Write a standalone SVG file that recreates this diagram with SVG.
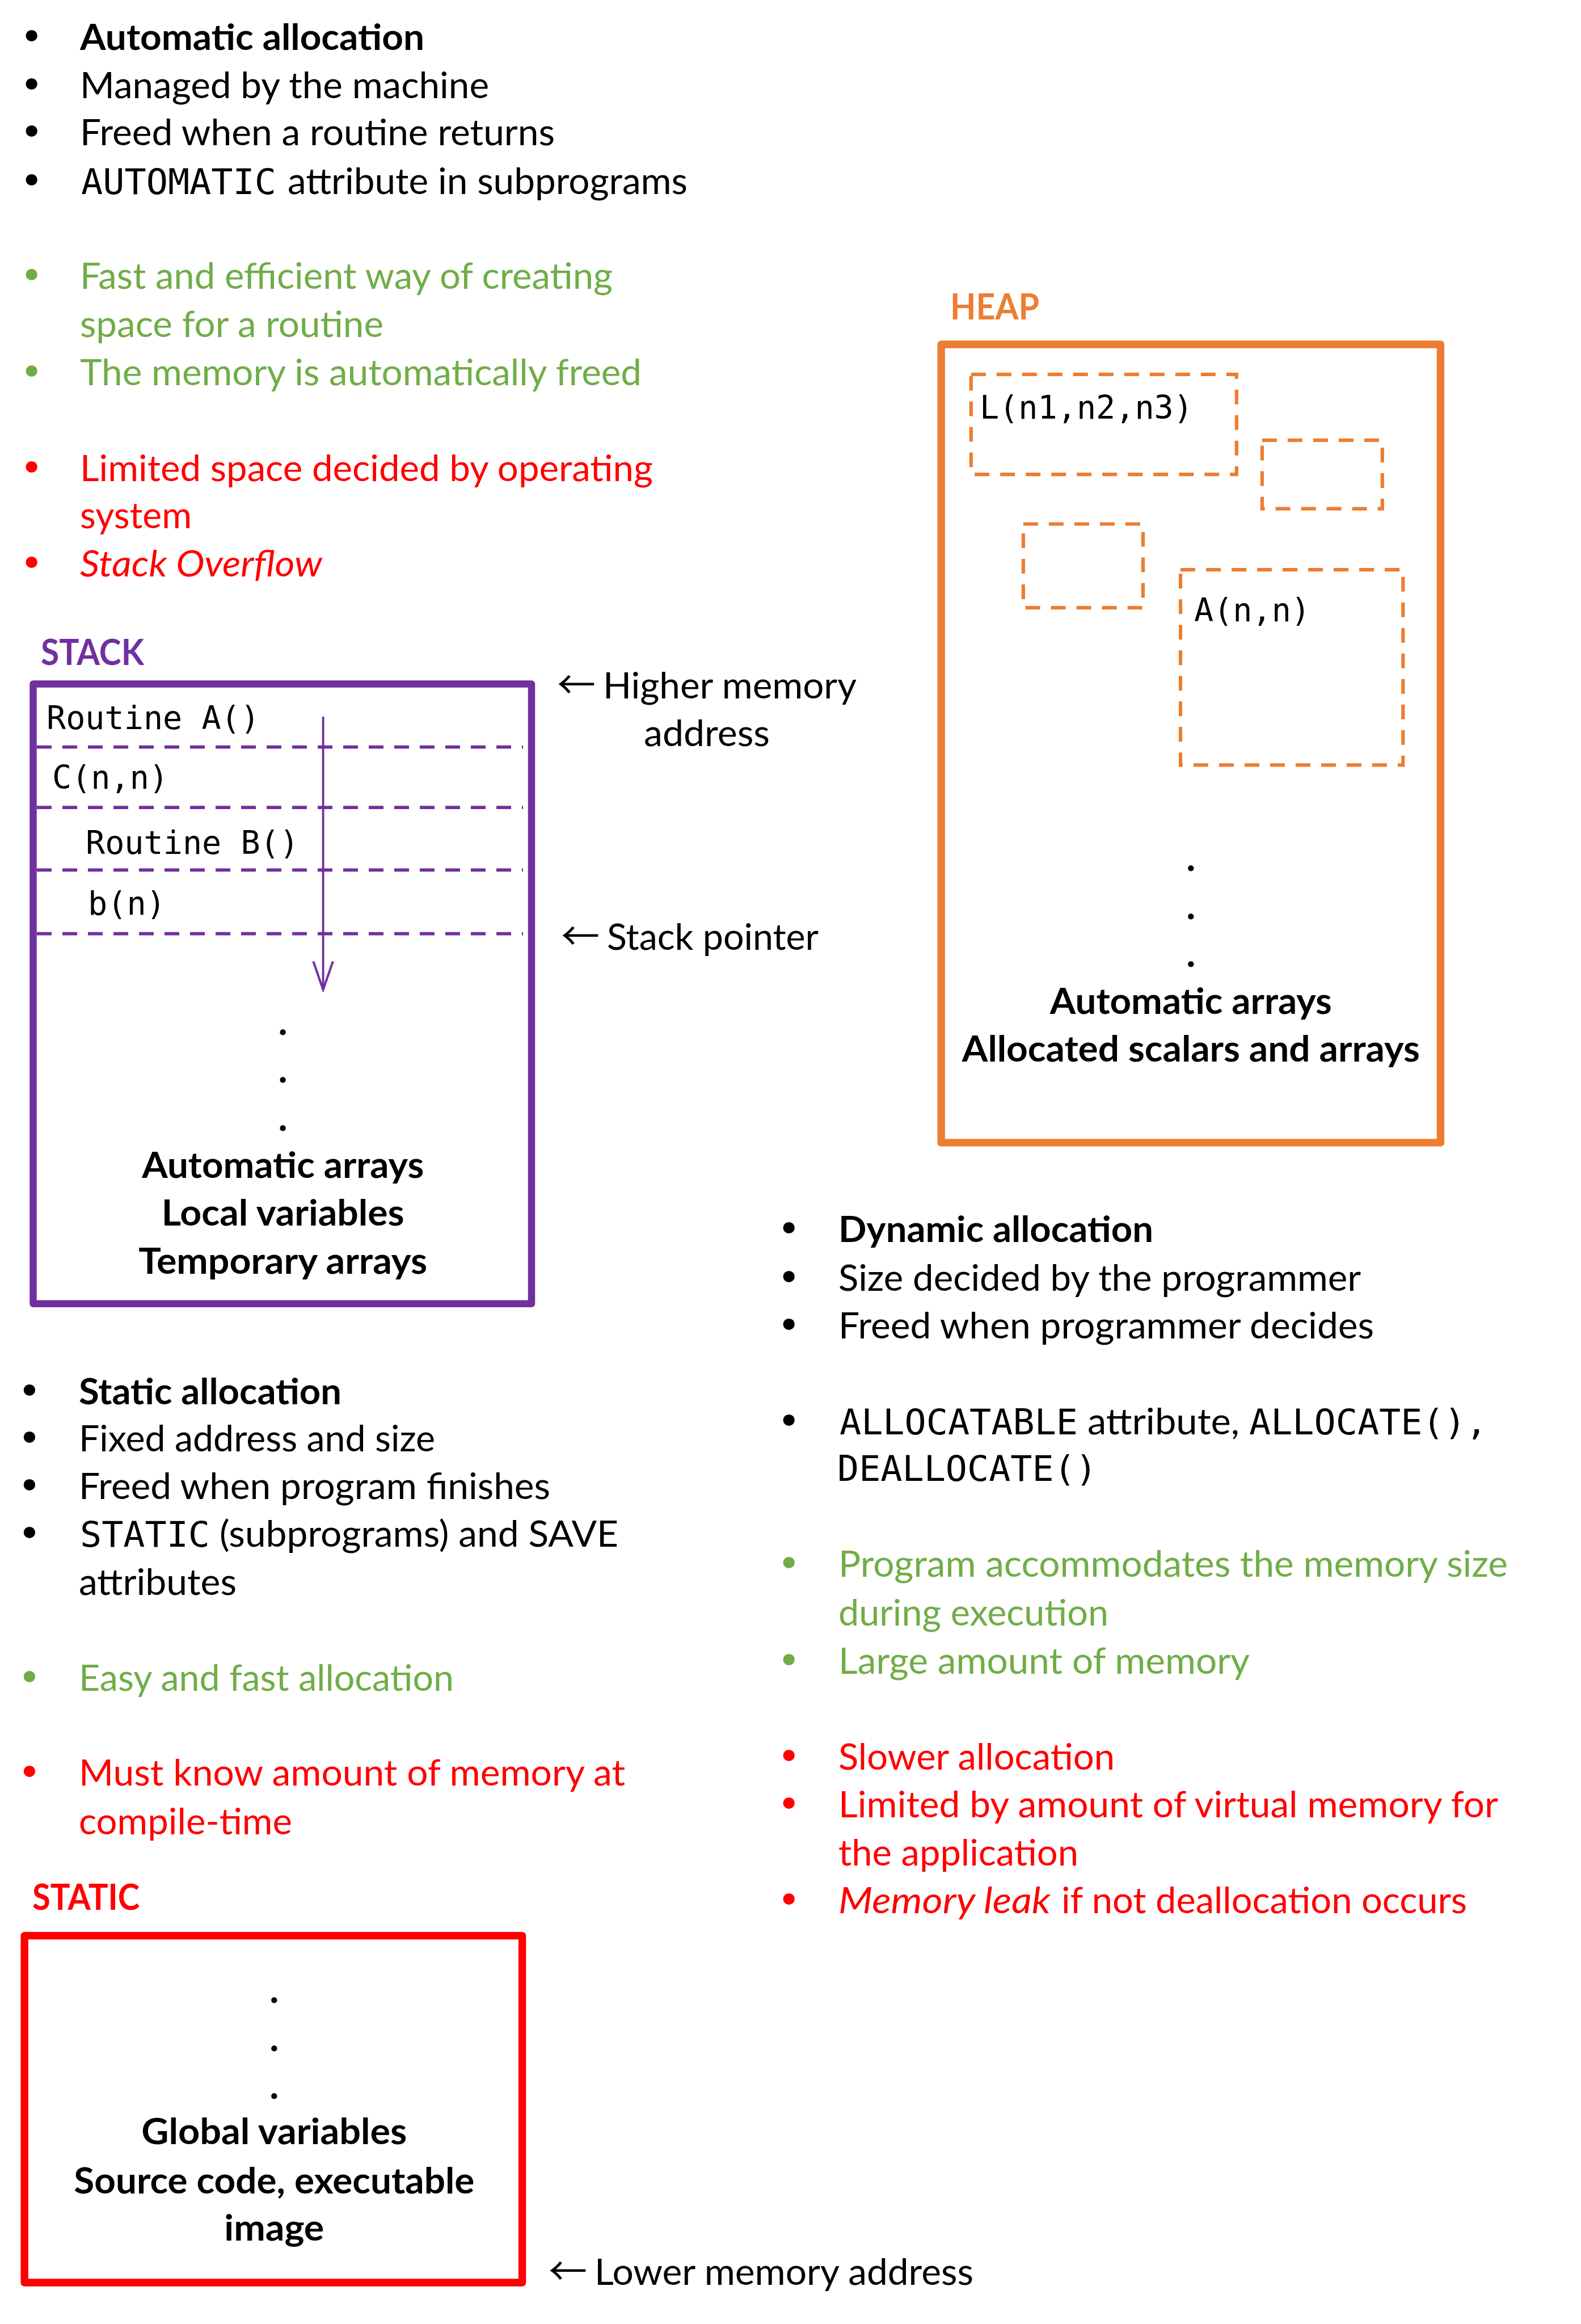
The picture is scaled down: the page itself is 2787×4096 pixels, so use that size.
<svg xmlns="http://www.w3.org/2000/svg" width="2787" height="4096" viewBox="0 0 2787 4096">
<style>
.t{font-family:Lato,"Liberation Sans",sans-serif;font-size:64px;fill:#000}
.b{font-weight:bold}
.i{font-style:italic}
.m{font-family:"DejaVu Sans Mono","Liberation Mono",monospace;font-size:63px;fill:#000}
.ms{font-family:"DejaVu Sans Mono","Liberation Mono",monospace;font-size:57px;fill:#000}
.bul{font-family:"DejaVu Sans",sans-serif;font-size:70px;text-anchor:middle}
.arr{font-family:"Noto Sans CJK JP","DejaVu Sans",sans-serif;font-size:68px;fill:#000}
.dot{font-family:Lato,"Liberation Sans",sans-serif;font-size:68px;font-weight:bold;text-anchor:middle}
.c{text-anchor:middle}
.g{fill:#70AD47}
.r{fill:#FF0000}
.k{fill:#000}
.pu{fill:#7030A0}
.or{fill:#ED7D31}
.box{fill:none;stroke-linejoin:round}
.pdash{stroke:#7030A0;stroke-width:5.8;stroke-dasharray:26 19;fill:none}
.odash{stroke:#ED7D31;stroke-width:6.2;stroke-dasharray:26 19;fill:none}
</style>
<defs>
<marker id="vhead" markerUnits="userSpaceOnUse" viewBox="0 0 56 40" markerWidth="56" markerHeight="40" refX="52" refY="20" orient="auto">
<path d="M2,2.7 L52,20 L2,37.3" fill="none" stroke="#7030A0" stroke-width="4" stroke-linejoin="miter"/>
</marker>
</defs>
<rect x="0" y="0" width="2787" height="4096" fill="#fff"/>

<g id="automatic-notes">
<text class="bul k" x="55.6" y="89.2">•</text>
<text class="bul k" x="55.6" y="173.6">•</text>
<text class="bul k" x="55.6" y="257.1">•</text>
<text class="bul k" x="55.6" y="343.4">•</text>
<text class="t b" x="141" y="88.2" textLength="607" lengthAdjust="spacingAndGlyphs">Automatic allocation</text>
<text class="t" x="141" y="172.6" textLength="721" lengthAdjust="spacingAndGlyphs">Managed by the machine</text>
<text class="t" x="141" y="256.1" textLength="837" lengthAdjust="spacingAndGlyphs">Freed when a routine returns</text>
<text class="m" x="143" y="342.4" textLength="344" lengthAdjust="spacingAndGlyphs">AUTOMATIC</text>
<text class="t" x="507" y="342.4" textLength="705" lengthAdjust="spacingAndGlyphs">attribute in subprograms</text>
<text class="bul g" x="55.6" y="510.2">•</text>
<text class="bul g" x="55.6" y="680">•</text>
<text class="t g" x="141" y="509.2" textLength="939" lengthAdjust="spacingAndGlyphs">Fast and efficient way of creating</text>
<text class="t g" x="141" y="593.6" textLength="535" lengthAdjust="spacingAndGlyphs">space for a routine</text>
<text class="t g" x="141" y="679" textLength="990" lengthAdjust="spacingAndGlyphs">The memory is automatically freed</text>
<text class="bul r" x="55.6" y="848.8">•</text>
<text class="bul r" x="55.6" y="1016.6">•</text>
<text class="t r" x="141" y="847.8" textLength="1010" lengthAdjust="spacingAndGlyphs">Limited space decided by operating</text>
<text class="t r" x="141" y="931.2" textLength="197" lengthAdjust="spacingAndGlyphs">system</text>
<text class="t r i" x="141" y="1015.6" textLength="427" lengthAdjust="spacingAndGlyphs">Stack Overflow</text>
</g>

<g id="stack">
<text class="t b pu" x="72" y="1171.9" textLength="182" lengthAdjust="spacingAndGlyphs">STACK</text>
<rect class="box" x="58.5" y="1205.5" width="878.5" height="1092.3" stroke="#7030A0" stroke-width="12.5"/>
<line class="pdash" x1="65" y1="1316.7" x2="922" y2="1316.7"/>
<line class="pdash" x1="65" y1="1423.2" x2="922" y2="1423.2"/>
<line class="pdash" x1="65" y1="1533.4" x2="922" y2="1533.4"/>
<line class="pdash" x1="65" y1="1645.6" x2="922" y2="1645.6"/>
<text class="ms" x="82" y="1285.1" textLength="376" lengthAdjust="spacingAndGlyphs">Routine A()</text>
<text class="ms" x="92" y="1389.6" textLength="205" lengthAdjust="spacingAndGlyphs">C(n,n)</text>
<text class="ms" x="151" y="1504.7" textLength="376" lengthAdjust="spacingAndGlyphs">Routine B()</text>
<text class="ms" x="155" y="1612.1" textLength="137" lengthAdjust="spacingAndGlyphs">b(n)</text>
<text class="dot" x="498.7" y="1824">.</text>
<text class="dot" x="498.7" y="1908.4">.</text>
<text class="dot" x="498.7" y="1992.8">.</text>
<text class="t b c" x="498.7" y="2076.2" textLength="497" lengthAdjust="spacingAndGlyphs">Automatic arrays</text>
<text class="t b c" x="498.7" y="2159.7" textLength="428" lengthAdjust="spacingAndGlyphs">Local variables</text>
<text class="t b c" x="498.7" y="2245" textLength="509" lengthAdjust="spacingAndGlyphs">Temporary arrays</text>
</g>

<g id="higher-address-label">
<text class="arr" x="982" y="1232.4">←</text>
<text class="t" x="1063" y="1231.4" textLength="447" lengthAdjust="spacingAndGlyphs">Higher memory</text>
<text class="t" x="1135" y="1314.8" textLength="222" lengthAdjust="spacingAndGlyphs">address</text>
</g>
<g id="stack-pointer-label">
<text class="arr" x="989" y="1675.4">←</text>
<text class="t" x="1070" y="1674.4" textLength="373" lengthAdjust="spacingAndGlyphs">Stack pointer</text>
</g>

<g id="heap">
<text class="t b or" x="1675" y="563" textLength="157" lengthAdjust="spacingAndGlyphs">HEAP</text>
<rect class="box" x="1659.1" y="607" width="880.3" height="1406.9" stroke="#ED7D31" stroke-width="13.4"/>
<rect class="odash" x="1711.8" y="659.8" width="468" height="176.4"/>
<rect class="odash" x="2224.9" y="775.8" width="211.9" height="120.9"/>
<rect class="odash" x="1803.9" y="923.5" width="211" height="147.7"/>
<rect class="odash" x="2081" y="1004.1" width="392.3" height="344.3"/>
<text class="ms" x="1727" y="737.5" textLength="376" lengthAdjust="spacingAndGlyphs">L(n1,n2,n3)</text>
<text class="ms" x="2105" y="1095.2" textLength="205" lengthAdjust="spacingAndGlyphs">A(n,n)</text>
<text class="dot" x="2099.3" y="1535.4">.</text>
<text class="dot" x="2099.3" y="1619.8">.</text>
<text class="dot" x="2099.3" y="1704.1">.</text>
<text class="t b c" x="2099.3" y="1786.6" textLength="497" lengthAdjust="spacingAndGlyphs">Automatic arrays</text>
<text class="t b c" x="2099.3" y="1871" textLength="807" lengthAdjust="spacingAndGlyphs">Allocated scalars and arrays</text>
</g>

<g id="dynamic-notes">
<text class="bul k" x="1390.6" y="2190.4">•</text>
<text class="bul k" x="1390.6" y="2275.7">•</text>
<text class="bul k" x="1390.6" y="2360.1">•</text>
<text class="bul k" x="1390.6" y="2528.9">•</text>
<text class="t b" x="1478" y="2189.4" textLength="555" lengthAdjust="spacingAndGlyphs">Dynamic allocation</text>
<text class="t" x="1478" y="2274.7" textLength="921" lengthAdjust="spacingAndGlyphs">Size decided by the programmer</text>
<text class="t" x="1478" y="2359.1" textLength="944" lengthAdjust="spacingAndGlyphs">Freed when programmer decides</text>
<text class="m" x="1480" y="2527.9" textLength="420" lengthAdjust="spacingAndGlyphs">ALLOCATABLE</text>
<text class="t" x="1917" y="2527.9" textLength="268" lengthAdjust="spacingAndGlyphs">attribute,</text>
<text class="m" x="2202" y="2527.9" textLength="420" lengthAdjust="spacingAndGlyphs">ALLOCATE(),</text>
<text class="m" x="1476" y="2610.4" textLength="458" lengthAdjust="spacingAndGlyphs">DEALLOCATE()</text>
<text class="bul g" x="1390.6" y="2780.2">•</text>
<text class="bul g" x="1390.6" y="2950.9">•</text>
<text class="t g" x="1478" y="2779.2" textLength="1180" lengthAdjust="spacingAndGlyphs">Program accommodates the memory size</text>
<text class="t g" x="1478" y="2864.5" textLength="476" lengthAdjust="spacingAndGlyphs">during execution</text>
<text class="t g" x="1478" y="2949.9" textLength="725" lengthAdjust="spacingAndGlyphs">Large amount of memory</text>
<text class="bul r" x="1390.6" y="3119.7">•</text>
<text class="bul r" x="1390.6" y="3204.1">•</text>
<text class="bul r" x="1390.6" y="3372.8">•</text>
<text class="t r" x="1478" y="3118.7" textLength="487" lengthAdjust="spacingAndGlyphs">Slower allocation</text>
<text class="t r" x="1478" y="3203.1" textLength="1163" lengthAdjust="spacingAndGlyphs">Limited by amount of virtual memory for</text>
<text class="t r" x="1478" y="3287.5" textLength="423" lengthAdjust="spacingAndGlyphs">the application</text>
<text class="t r i" x="1478" y="3371.8" textLength="374" lengthAdjust="spacingAndGlyphs">Memory leak</text>
<text class="t r" x="1871" y="3371.8" textLength="715" lengthAdjust="spacingAndGlyphs">if not deallocation occurs</text>
</g>

<g id="static-notes">
<text class="bul k" x="51.8" y="2476.2">•</text>
<text class="bul k" x="51.8" y="2558.7">•</text>
<text class="bul k" x="51.8" y="2643">•</text>
<text class="bul k" x="51.8" y="2726.5">•</text>
<text class="t b" x="139" y="2475.2" textLength="463" lengthAdjust="spacingAndGlyphs">Static allocation</text>
<text class="t" x="139" y="2557.7" textLength="628" lengthAdjust="spacingAndGlyphs">Fixed address and size</text>
<text class="t" x="139" y="2642" textLength="831" lengthAdjust="spacingAndGlyphs">Freed when program finishes</text>
<text class="m" x="141" y="2725.5" textLength="229" lengthAdjust="spacingAndGlyphs">STATIC</text>
<text class="t" x="387" y="2725.5" textLength="703" lengthAdjust="spacingAndGlyphs">(subprograms) and SAVE</text>
<text class="t" x="139" y="2811.3" textLength="278" lengthAdjust="spacingAndGlyphs">attributes</text>
<text class="bul g" x="51.8" y="2980.6">•</text>
<text class="t g" x="139" y="2979.6" textLength="661" lengthAdjust="spacingAndGlyphs">Easy and fast allocation</text>
<text class="bul r" x="51.8" y="3148.4">•</text>
<text class="t r" x="139" y="3147.4" textLength="963" lengthAdjust="spacingAndGlyphs">Must know amount of memory at</text>
<text class="t r" x="139" y="3233.3" textLength="376" lengthAdjust="spacingAndGlyphs">compile-time</text>
</g>

<g id="static">
<text class="t b r" x="57" y="3366.1" textLength="189" lengthAdjust="spacingAndGlyphs">STATIC</text>
<rect class="box" x="43.2" y="3411.6" width="877.4" height="611.4" stroke="#FF0000" stroke-width="13.4"/>
<text class="dot" x="483.3" y="3530.1">.</text>
<text class="dot" x="483.3" y="3614.5">.</text>
<text class="dot" x="483.3" y="3698.9">.</text>
<text class="t b c" x="483.3" y="3779.4" textLength="468" lengthAdjust="spacingAndGlyphs">Global variables</text>
<text class="t b c" x="483.3" y="3865.7" textLength="706" lengthAdjust="spacingAndGlyphs">Source code, executable</text>
<text class="t b c" x="483.3" y="3949.2" textLength="176" lengthAdjust="spacingAndGlyphs">image</text>
</g>

<g id="lower-address-label">
<text class="arr" x="967" y="4028.3">←</text>
<text class="t" x="1048" y="4027.3" textLength="668" lengthAdjust="spacingAndGlyphs">Lower memory address</text>
</g>

<g id="connectors">
<line x1="569.6" y1="1263" x2="569.6" y2="1744.4" stroke="#7030A0" stroke-width="3.8" marker-end="url(#vhead)"/>
</g>
</svg>
